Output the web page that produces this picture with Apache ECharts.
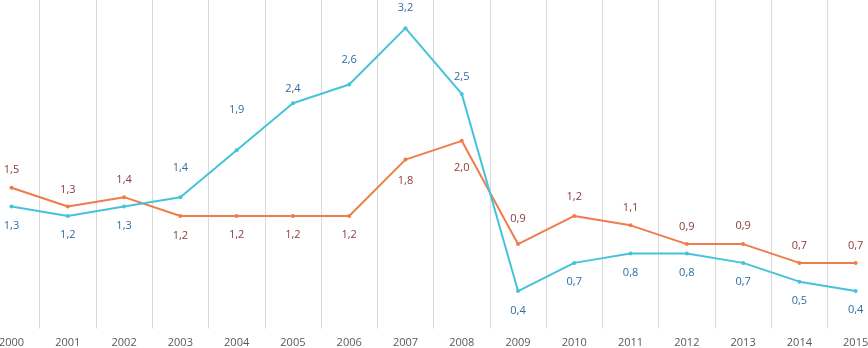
<!DOCTYPE html>
<html>
<head>
<meta charset="utf-8">
<script src="https://cdn.jsdelivr.net/npm/echarts@6/dist/echarts.min.js"></script>
<style>
    html, body { margin: 0; padding: 0; background: #fff; }
    #chart { width: 868px; height: 348px; }
</style>
</head>
<body>
<div id="chart"></div>
<script>
var years = ['2000','2001','2002','2003','2004','2005','2006','2007','2008','2009','2010','2011','2012','2013','2014','2015'];
var blueValues = [1.3, 1.2, 1.3, 1.4, 1.9, 2.4, 2.6, 3.2, 2.5, 0.4, 0.7, 0.8, 0.8, 0.7, 0.5, 0.4];
var orangeValues = [1.5, 1.3, 1.4, 1.2, 1.2, 1.2, 1.2, 1.8, 2.0, 0.9, 1.2, 1.1, 0.9, 0.9, 0.7, 0.7];

// label offsets from the point (px), negative = above
var blueLabelDy = [19, 19, 19, -29, -40, -14, -25, -20, -17, 20, 19, 19, 19, 19, 19, 19];
var orangeLabelDy = [-18, -17, -17, 20, 19, 19, 19, 21, 27, -25, -19, -17, -17, -18, -17, -17];

function buildData(values, dys) {
    var out = [];
    for (var i = 0; i < values.length; i++) {
        out.push({
            value: values[i],
            label: { offset: [0, dys[i]] }
        });
    }
    return out;
}

function fmt(p) {
    return p.value.toFixed(1).replace('.', ',');
}

var myChart = echarts.init(document.getElementById('chart'));
var option = {
    animation: false,
    backgroundColor: '#ffffff',
    grid: {
        left: -16.6,
        right: -15.8,
        top: 0,
        bottom: 19.4,
        containLabel: false,
        outerBoundsMode: 'none'
    },
    xAxis: {
        type: 'category',
        boundaryGap: true,
        data: years,
        axisLine: { show: false },
        axisTick: { show: false },
        axisLabel: {
            color: '#595959',
            fontSize: 11,
            fontFamily: 'Open Sans',
            margin: 9,
            interval: 0
        },
        splitLine: {
            show: true,
            lineStyle: { color: '#d9d9d9', width: 1 }
        }
    },
    yAxis: {
        type: 'value',
        min: 0,
        max: 3.5,
        show: false,
        splitLine: { show: false }
    },
    series: [{
        type: 'line',
        data: buildData(blueValues, blueLabelDy),
        symbol: 'circle',
        symbolSize: 4,
        lineStyle: { color: '#45c3d9', width: 2 },
        itemStyle: { color: '#45c3d9' },
        label: {
            show: true,
            position: 'inside',
            color: '#2e6da4',
            fontSize: 11,
            fontFamily: 'Open Sans',
            formatter: fmt
        },
        z: 3
    }, {
        type: 'line',
        data: buildData(orangeValues, orangeLabelDy),
        symbol: 'circle',
        symbolSize: 4,
        lineStyle: { color: '#f07c4c', width: 2 },
        itemStyle: { color: '#f07c4c' },
        label: {
            show: true,
            position: 'inside',
            color: '#8a3b3b',
            fontSize: 11,
            fontFamily: 'Open Sans',
            formatter: fmt
        },
        z: 2
    }]
};
myChart.setOption(option);
</script>
</body>
</html>
